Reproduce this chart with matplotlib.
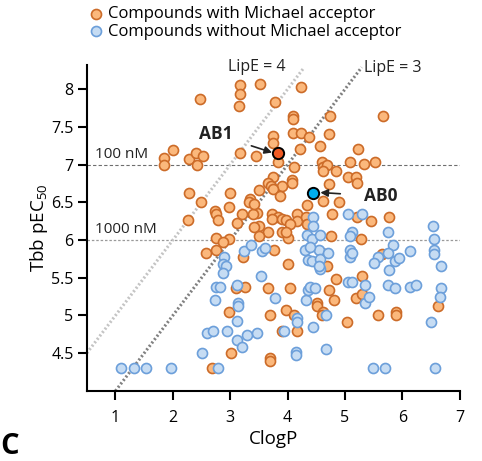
import matplotlib
matplotlib.use("Agg")
import matplotlib.pyplot as plt
import numpy as np

plt.rcParams['font.family'] = ['Open Sans', 'DejaVu Sans']
plt.rcParams['mathtext.fontset'] = 'custom'
plt.rcParams['mathtext.rm'] = 'Open Sans'

# ---- data: compounds with Michael acceptor (ClogP, pEC50) ----
ma_clogp = [2.47, 3.17, 3.17, 3.15, 3.51, 3.78, 4.23, 4.09, 4.09, 4.73, 5.66,
            3.74, 3.74, 4.09, 4.24, 4.37, 4.72, 4.21, 4.56, 5.22, 2.00, 1.84,
            1.84, 2.28, 2.40, 2.42, 2.52, 3.17, 3.44, 3.84, 4.11, 4.59, 4.61,
            4.68, 4.84, 4.61, 5.08, 5.33, 5.53, 3.74, 3.65, 3.71, 4.07, 4.07,
            3.91, 3.74, 3.50, 3.86, 4.72, 5.05, 5.19, 5.20, 4.33, 4.61, 4.89,
            4.77, 5.20, 5.45, 5.76, 3.34, 3.46, 3.39, 3.72, 3.84, 3.72, 3.91,
            3.98, 4.16, 4.16, 4.04, 3.65, 3.50, 3.91, 4.32, 4.33, 4.75, 2.28,
            2.49, 2.26, 2.73, 2.76, 2.78, 3.00, 2.97, 3.11, 3.20, 3.32, 3.41,
            3.41, 3.50, 2.75, 2.97, 2.87, 2.57, 2.75, 3.22, 3.76, 4.00, 3.98,
            5.27, 4.00, 4.59, 4.68, 4.84, 5.29, 5.64, 4.72, 4.80, 4.52, 4.52,
            4.61, 4.59, 5.19, 5.29, 5.03, 5.57, 5.88, 5.88, 6.62, 2.68, 3.01,
            2.97, 3.10, 3.25, 3.65, 3.69, 3.69, 3.69, 4.04, 3.97, 4.11, 4.16,
            3.91]
ma_pec50 = [7.87, 8.06, 7.94, 7.77, 8.07, 7.83, 8.03, 7.65, 7.60, 7.65, 7.65,
            7.38, 7.28, 7.42, 7.42, 7.37, 7.40, 7.21, 7.25, 7.21, 7.19, 7.09,
            7.00, 7.08, 7.15, 7.00, 7.11, 7.15, 7.11, 7.04, 6.97, 7.04, 6.97,
            6.99, 6.92, 6.91, 7.04, 7.01, 7.04, 6.84, 6.76, 6.72, 6.80, 6.76,
            6.71, 6.67, 6.66, 6.58, 6.74, 6.84, 6.83, 6.76, 6.47, 6.52, 6.51,
            6.34, 6.31, 6.25, 6.30, 6.54, 6.36, 6.35, 6.34, 6.31, 6.28, 6.28,
            6.27, 6.34, 6.25, 6.21, 6.11, 6.18, 6.10, 6.30, 6.21, 6.06, 6.63,
            6.50, 6.26, 6.39, 6.35, 6.27, 6.63, 6.44, 6.23, 6.34, 6.50, 6.48,
            6.17, 6.05, 6.03, 6.02, 5.97, 5.83, 5.87, 5.78, 5.87, 6.03, 6.10,
            6.01, 5.68, 5.83, 5.65, 5.48, 5.52, 5.81, 5.34, 5.21, 5.17, 5.12,
            5.05, 5.01, 5.23, 5.28, 4.92, 5.00, 5.04, 5.00, 5.13, 4.30, 4.50,
            5.05, 5.37, 5.38, 5.37, 5.00, 4.44, 4.40, 5.36, 5.07, 5.01, 4.79,
            4.79]

# ---- data: compounds without Michael acceptor ----
noma_clogp = [4.44, 4.44, 4.33, 4.42, 4.56, 4.30, 4.35, 4.42, 4.54, 4.56, 4.56,
              4.70, 4.54, 4.39, 5.06, 5.29, 5.13, 5.08, 5.08, 5.08, 5.12, 5.74,
              5.83, 5.74, 5.87, 5.94, 5.57, 5.50, 6.14, 6.53, 6.55, 6.55, 6.55,
              6.67, 6.67, 6.65, 6.49, 6.56, 5.48, 5.69, 4.66, 4.45, 4.66, 5.34,
              5.41, 5.05, 5.12, 5.34, 4.32, 4.35, 4.39, 4.47, 5.74, 5.87, 6.14,
              6.23, 5.76, 2.89, 2.87, 2.92, 2.87, 3.24, 3.36, 3.55, 3.60, 3.53,
              2.75, 2.83, 2.73, 3.11, 3.13, 3.13, 3.11, 2.94, 2.59, 2.70, 3.11,
              3.30, 3.46, 3.20, 2.50, 1.09, 1.32, 1.54, 1.96, 2.78, 3.78, 4.16,
              4.16, 3.93, 4.14, 4.14]
noma_pec50 = [6.30, 6.18, 6.07, 6.01, 6.07, 5.87, 5.74, 5.72, 5.87, 5.75, 5.61,
              5.83, 5.65, 5.91, 6.35, 6.35, 6.11, 6.06, 5.87, 5.78, 5.83, 6.11,
              5.94, 5.83, 5.72, 5.76, 5.78, 5.69, 5.85, 6.18, 6.01, 5.87, 5.82,
              5.66, 5.36, 5.25, 4.92, 4.31, 4.31, 4.31, 4.56, 4.85, 5.01, 5.16,
              5.24, 5.44, 5.45, 5.40, 5.21, 5.34, 5.38, 5.36, 5.41, 5.36, 5.38,
              5.41, 5.60, 5.78, 5.68, 5.66, 5.56, 5.85, 5.94, 5.85, 5.89, 5.52,
              5.38, 5.38, 5.20, 5.40, 5.17, 5.13, 4.93, 4.79, 4.77, 4.79, 4.67,
              4.74, 4.77, 4.58, 4.50, 4.31, 4.31, 4.31, 4.31, 4.31, 5.23, 4.96,
              4.91, 4.79, 4.51, 4.48]

# highlighted compounds
hl_names = ["AB1", "AB0"]
hl_clogp = [3.84, 4.44]
hl_pec50 = [7.15, 6.63]

lipe_values = [4, 3]
potency_lines = [7, 6]
potency_labels = ["100 nM", "1000 nM"]
xticks = [1, 2, 3, 4, 5, 6, 7]
yticks = [4.5, 5, 5.5, 6, 6.5, 7, 7.5, 8]
ytick_labels = ["4.5", "5", "5.5", "6", "6.5", "7", "7.5", "8"]

fig = plt.figure(figsize=(4.82, 4.61), dpi=100)
ax = fig.add_axes([0.180, 0.152, 0.774, 0.707])
xlim = (0.5, 7.0)
ylim = (4.0, 8.32)
ax.set_xlim(*xlim)
ax.set_ylim(*ylim)

# potency reference lines
ax.axhline(potency_lines[0], color='#6e6e6e', lw=0.8, ls=(0, (3, 2)), zorder=1)
ax.axhline(potency_lines[1], color='#9a9a9a', lw=0.9, ls=(0, (2, 1.5)), zorder=1)
ax.text(0.64, potency_lines[0] + 0.04, potency_labels[0], fontsize=11, color='#222222',
        ha='left', va='bottom')
ax.text(0.64, potency_lines[1] + 0.04, potency_labels[1], fontsize=11, color='#222222',
        ha='left', va='bottom')

# LipE lines (pEC50 = ClogP + LipE)
lipe_colors = ['#c4c4c4', '#808080']
for lv, col in zip(lipe_values, lipe_colors):
    x0 = max(xlim[0], ylim[0] - lv)
    x1 = ylim[1] - 0.03 - lv
    xs = np.array([x0, x1])
    ax.plot(xs, xs + lv, color=col, lw=2.2, ls=(0, (0.65, 0.75)),
            dash_capstyle='butt', zorder=1.5, clip_on=False)
ax.text(3.46, 8.30, "LipE = 4", fontsize=11.5, color='#222222', ha='center', va='center',
        clip_on=False)
ax.text(5.33, 8.28, "LipE = 3", fontsize=11.5, color='#222222', ha='left', va='center',
        clip_on=False)

# scatter
sc_ma = ax.scatter(ma_clogp, ma_pec50, s=52, facecolor='#fbb87c', edgecolor='#cc6b28',
                   linewidth=1.2, zorder=3, label='Compounds with Michael acceptor')
sc_no = ax.scatter(noma_clogp, noma_pec50, s=52, facecolor='#c6dcf3', edgecolor='#6c9fda',
                   linewidth=1.2, zorder=4, label='Compounds without Michael acceptor')
ax.scatter([hl_clogp[0]], [hl_pec50[0]], s=66, facecolor='#ef5a24', edgecolor='black',
           linewidth=1.4, zorder=6)
ax.scatter([hl_clogp[1]], [hl_pec50[1]], s=66, facecolor='#00adee', edgecolor='black',
           linewidth=1.4, zorder=6)

# annotations
ax.annotate(hl_names[0], xy=(hl_clogp[0] - 0.11, hl_pec50[0] + 0.01), xytext=(2.75, 7.40),
            fontsize=12.5, fontweight='bold', color='#222222', ha='center', va='center',
            arrowprops=dict(arrowstyle='-|>', color='#222222', lw=1.2,
                            mutation_scale=11, shrinkA=12, shrinkB=0), zorder=7)
ax.annotate(hl_names[1], xy=(hl_clogp[1] + 0.13, hl_pec50[1]), xytext=(5.62, 6.58),
            fontsize=12.5, fontweight='bold', color='#222222', ha='center', va='center',
            arrowprops=dict(arrowstyle='-|>', color='#222222', lw=1.2,
                            mutation_scale=11, shrinkA=15, shrinkB=0), zorder=7)

# axes styling
for side in ['top', 'right']:
    ax.spines[side].set_visible(False)
for side in ['left', 'bottom']:
    ax.spines[side].set_linewidth(1.5)
ax.set_xticks(xticks)
ax.set_yticks(yticks)
ax.set_yticklabels(ytick_labels)
ax.tick_params(direction='out', length=6.5, width=1.5, labelsize=11.5, colors='black')
ax.tick_params(axis='x', pad=7)
ax.tick_params(axis='y', pad=3)
ax.set_xlabel('ClogP', fontsize=13.5, labelpad=3)
ax.set_ylabel('Tbb pEC$_{\\mathregular{50}}$', fontsize=13.5, labelpad=1)

# legend
fig.legend(handles=[sc_ma, sc_no], loc='upper left', bbox_to_anchor=(0.155, 1.012),
           frameon=False, fontsize=12, handletextpad=0.1, labelspacing=0.1,
           borderpad=0.2, handlelength=1.2, markerscale=1.0)

# panel letter at bottom-left
fig.text(0.0, 0.0, 'C', fontsize=21, fontweight='bold', color='black', ha='left', va='bottom')

fig.savefig('out.png', dpi=100)
